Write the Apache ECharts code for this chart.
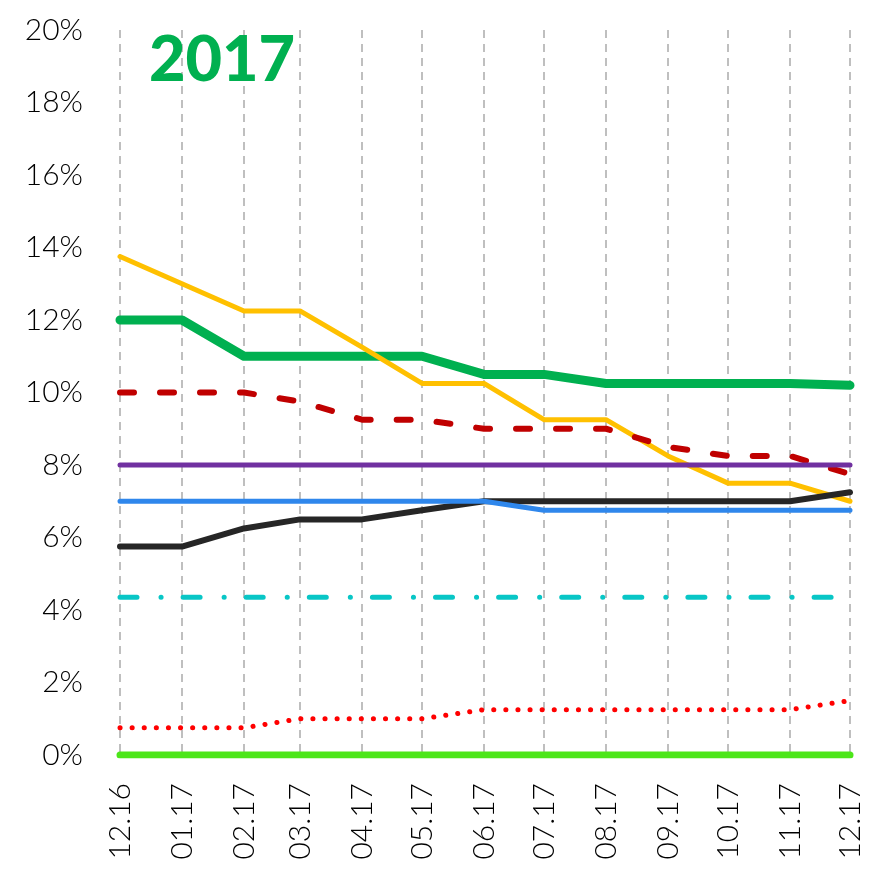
<!DOCTYPE html>
<html>
<head>
<meta charset="utf-8">
<script src="https://cdn.jsdelivr.net/npm/echarts@6/dist/echarts.min.js"></script>
<style>
html, body { margin: 0; padding: 0; background: #fff; }
#main { width: 870px; height: 875px; }
</style>
</head>
<body>
<div id="main"></div>
<script>
// month dates and their tick labels
var months = ['2016-12-01','2017-01-01','2017-02-01','2017-03-01','2017-04-01','2017-05-01','2017-06-01',
	'2017-07-01','2017-08-01','2017-09-01','2017-10-01','2017-11-01','2017-12-01'];
var monthLabels = ['12.16','01.17','02.17','03.17','04.17','05.17','06.17','07.17','08.17','09.17','10.17','11.17','12.17'];
var yTicks = [0, 2, 4, 6, 8, 10, 12, 14, 16, 18, 20];

// series values (%)
var greenThick = [12, 12, 11, 11, 11, 11, 10.5, 10.5, 10.25, 10.25, 10.25, 10.25, 10.2];
var yellow = [13.75, 13, 12.25, 12.25, 11.25, 10.25, 10.25, 9.25, 9.25, 8.25, 7.5, 7.5, 7];
var redDashed = [10, 10, 10, 9.75, 9.25, 9.25, 9, 9, 9, 8.5, 8.25, 8.25, 7.75];
var purple = [8, 8, 8, 8, 8, 8, 8, 8, 8, 8, 8, 8, 8];
var black = [5.75, 5.75, 6.25, 6.5, 6.5, 6.75, 7, 7, 7, 7, 7, 7, 7.25];
var blue = [7, 7, 7, 7, 7, 7, 7, 6.75, 6.75, 6.75, 6.75, 6.75, 6.75];
var cyanDashDot = [4.35, 4.35, 4.35, 4.35, 4.35, 4.35, 4.35, 4.35, 4.35, 4.35, 4.35, 4.35, 4.35];
var redDotted = [0.75, 0.75, 0.75, 1, 1, 1, 1.25, 1.25, 1.25, 1.25, 1.25, 1.25, 1.5];
var limeGreen = [0, 0, 0, 0, 0, 0, 0, 0, 0, 0, 0, 0, 0];

function pairs(vals){
	var out = [];
	for(var i = 0; i < vals.length; i++){
		out.push([months[i], vals[i]]);
	}
	return out;
}

function labelFor(v){
	var d = new Date(v);
	for(var i = 0; i < months.length; i++){
		var m = new Date(months[i]);
		if(m.getUTCFullYear() === d.getUTCFullYear() && m.getUTCMonth() === d.getUTCMonth()) return monthLabels[i];
	}
	return '';
}

function line(vals, color, width, dash, z){
	return {
		type: 'line',
		data: pairs(vals),
		symbol: 'none',
		silent: true,
		z: z,
		lineStyle: {
			color: color,
			width: width,
			type: dash || 'solid',
			cap: 'round',
			join: 'round'
		}
	};
}

var chart = echarts.init(document.getElementById('main'));
var option = {
	animation: false,
	title: {
		text: '2017',
		left: 144,
		top: 24,
		textStyle: {
			color: '#00B050',
			fontSize: 63,
			fontWeight: 900,
			fontFamily: 'Lato'
		}
	},
	grid: {
		left: 120,
		right: 20,
		top: 30,
		bottom: 120
	},
	xAxis: {
		type: 'time',
		min: months[0],
		max: months[months.length - 1],
		splitNumber: 12,
		axisLine: { show: false },
		axisTick: { show: false },
		axisLabel: {
			rotate: 90,
			margin: 28,
			fontSize: 30,
			fontFamily: 'Lato',
			fontWeight: 300,
			color: '#000',
			formatter: function(v){ return labelFor(v); }
		},
		splitLine: {
			show: true,
			lineStyle: { color: '#BFBFBF', width: 2, type: [8, 6] }
		}
	},
	yAxis: {
		type: 'value',
		min: yTicks[0],
		max: yTicks[yTicks.length - 1],
		interval: 2,
		axisLine: { show: false },
		axisTick: { show: false },
		splitLine: { show: false },
		axisLabel: {
			margin: 37,
			fontSize: 30,
			fontFamily: 'Lato',
			fontWeight: 300,
			color: '#000',
			formatter: '{value}%'
		}
	},
	series: [
		line(greenThick, '#00B050', 9, null, 2),
		line(yellow, '#FFC000', 5, null, 3),
		line(redDashed, '#C00000', 6, [14, 26], 4),
		line(purple, '#7030A0', 5, null, 5),
		line(black, '#262626', 6, null, 6),
		line(blue, '#2F87EC', 5, null, 7),
		line(cyanDashDot, '#08C6C6', 5, [17, 24, 0.1, 22], 8),
		line(redDotted, '#FF0000', 5, [0.1, 12], 9),
		line(limeGreen, '#4CE619', 7, null, 10)
	]
};
chart.setOption(option);
</script>
</body>
</html>
